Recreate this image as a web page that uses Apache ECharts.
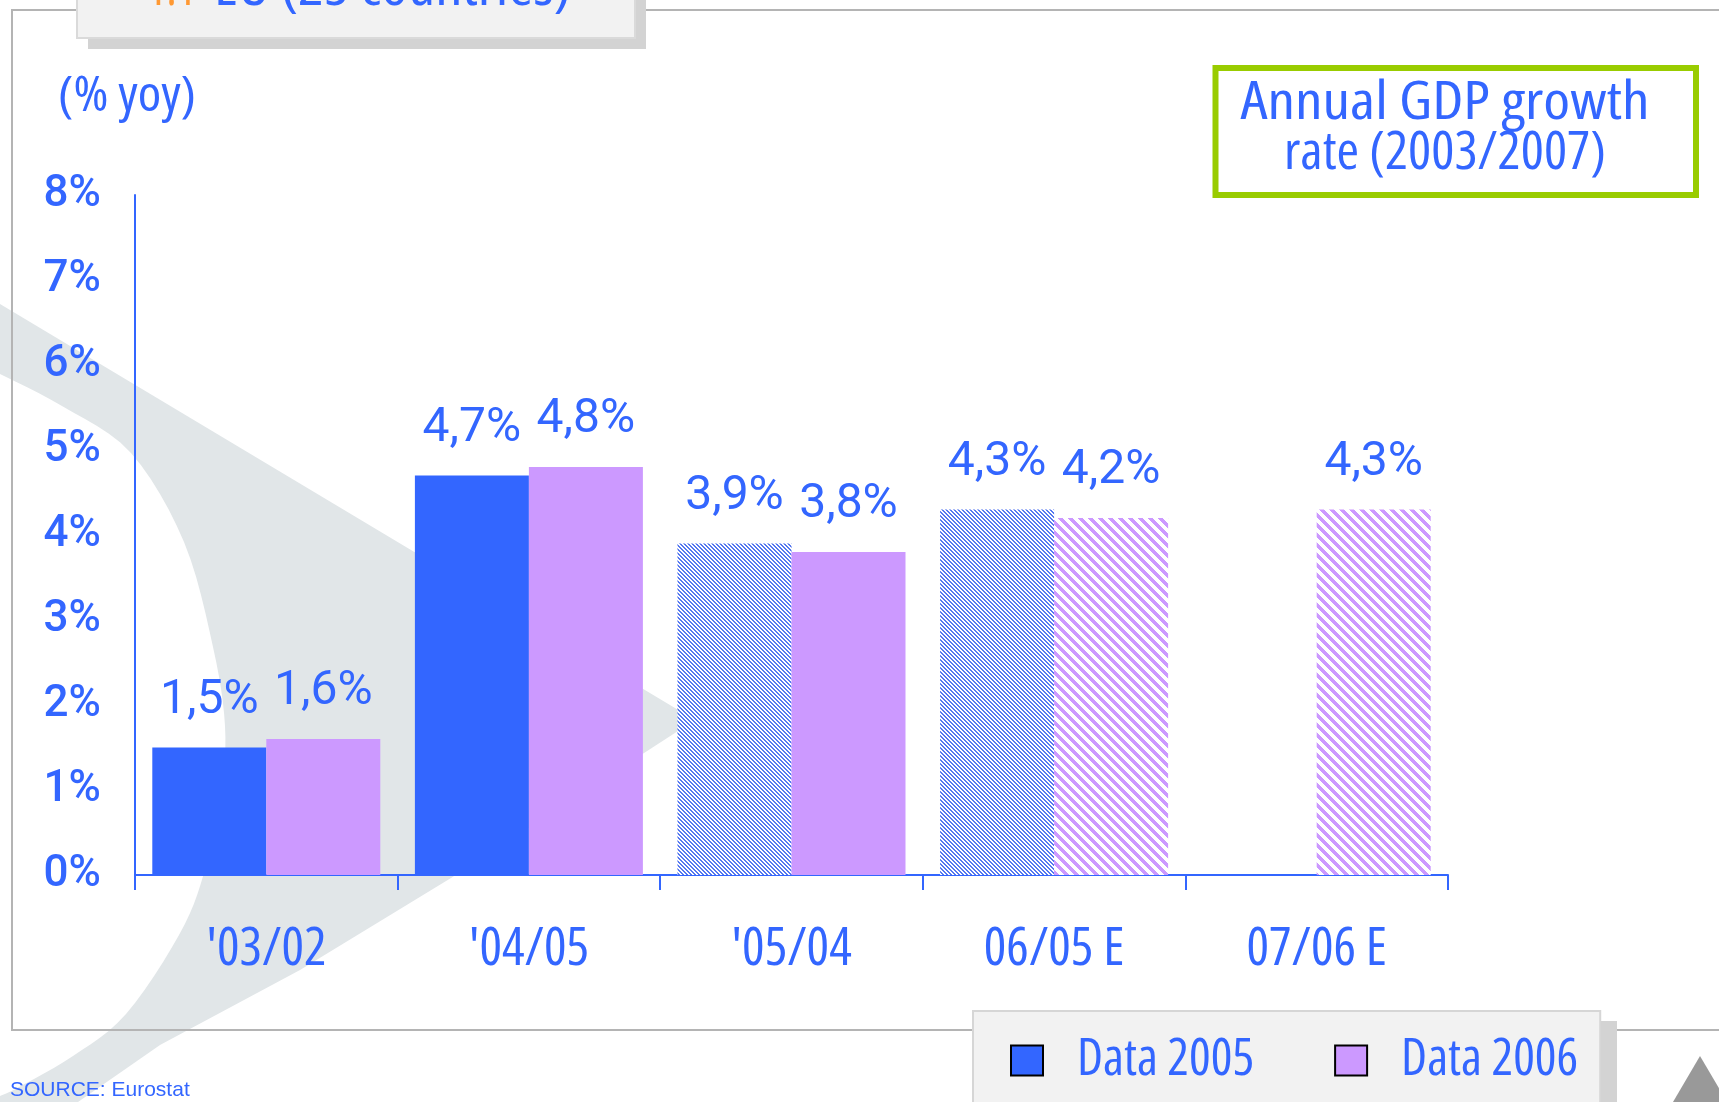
<!DOCTYPE html>
<html>
<head>
<meta charset="utf-8">
<script src="https://cdn.jsdelivr.net/npm/echarts@6/dist/echarts.min.js"></script>
<style>
html, body { margin: 0; padding: 0; background: #fff; }
#chart { width: 1719px; height: 1102px; }
</style>
</head>
<body>
<div id="chart"></div>
<script>
// values
var categories = ["'03/02", "'04/05", "'05/04", '06/05 E', '07/06 E'];
var data2005 = [1.5, 4.7, 3.9, 4.3, null];
var data2006 = [1.6, 4.8, 3.8, 4.2, 4.3];
// which bars are estimates (drawn hatched)
var estimated2005 = [false, false, true, true, false];
var estimated2006 = [false, false, false, true, true];
var yTicks = [0, 8, 1]; // min, max, step

var BLUE = '#3366FF';
var PURPLE = '#CC99FF';

// the original uses a narrow sans; take the narrowest one this machine has
var mctx = document.createElement('canvas').getContext('2d');
function textWidth(font, s) {
    mctx.font = '10px serif';
    mctx.font = font;
    return mctx.measureText(s).width;
}
var narrowCands = [
    ['condensed', "'Noto Sans'"],
    ['normal', "'Liberation Sans Narrow'"],
    ['normal', "'DejaVu Sans Condensed'"],
    ['normal', "'Roboto Condensed'"],
    ['condensed', "'Open Sans'"],
    ['normal', 'Roboto']
];
var NSTYLE = 'normal', NFAMILY = 'Roboto', best = Infinity;
narrowCands.forEach(function (c) {
    var w = textWidth(c[0] + ' 100px ' + c[1], 'Data 2005');
    if (w > 200 && w < best) { best = w; NSTYLE = c[0]; NFAMILY = c[1]; }
});
function nfont(size) { return NSTYLE + ' ' + size + 'px ' + NFAMILY; }
// font size that makes a text as wide as in the picture
function fitSize(s, width, size) {
    var k = width / textWidth(nfont(size), s);
    return Math.round(size * Math.max(0.75, Math.min(1.1, k)));
}
// horizontal squeeze for free texts
function squeeze(s, width, size) {
    var k = width / textWidth(nfont(size), s);
    return Math.max(0.65, Math.min(1.2, k));
}

// diagonal stripes on white, going top-left to bottom-right
function hatch(size, band, color) {
    var c = document.createElement('canvas');
    c.width = size; c.height = size;
    var ctx = c.getContext('2d');
    ctx.fillStyle = '#fff';
    ctx.fillRect(0, 0, size, size);
    ctx.fillStyle = color;
    for (var y = 0; y < size; y++) {
        for (var x = 0; x < size; x++) {
            if ((((x - y) % size) + size) % size < band) ctx.fillRect(x, y, 1, 1);
        }
    }
    return c;
}
var blueHatch = { image: hatch(4, 2, '#5578F0'), repeat: 'repeat' };
var purpleHatch = { image: hatch(10, 5, PURPLE), repeat: 'repeat' };

function items(values, estimated, pattern) {
    return values.map(function (v, i) {
        if (v === null) return '-';
        return estimated[i] ? { value: v, itemStyle: { color: pattern } } : v;
    });
}

function pct(p) {
    return String(p.value).replace('.', ',') + '%';
}

// background swoosh: straight outer edges, curved inner edge (catmull-rom through traced points)
function spline(pts, steps) {
    var out = [];
    for (var i = 0; i < pts.length - 1; i++) {
        var p0 = pts[Math.max(0, i - 1)], p1 = pts[i], p2 = pts[i + 1], p3 = pts[Math.min(pts.length - 1, i + 2)];
        for (var s = 0; s < steps; s++) {
            var t = s / steps, t2 = t * t, t3 = t2 * t;
            out.push([0, 1].map(function (k) {
                return 0.5 * (2 * p1[k] + (-p0[k] + p2[k]) * t + (2 * p0[k] - 5 * p1[k] + 4 * p2[k] - p3[k]) * t2 + (-p0[k] + 3 * p1[k] - 3 * p2[k] + p3[k]) * t3);
            }));
        }
    }
    out.push(pts[pts.length - 1]);
    return out;
}
var innerEdge = [[0, 1096], [19, 1087], [73, 1056], [126, 1014], [179, 935], [204, 873], [221, 790], [225, 726], [213, 647], [184, 542], [131, 453], [62, 406], [0, 374]];
var swoosh = [[0, 304], [695, 720], [451, 878], [300, 970], [160, 1045], [78, 1102], [0, 1102]]
    .concat(spline(innerEdge, 6));

var chart = echarts.init(document.getElementById('chart'));

var barLabel = {
    show: true,
    position: 'top',
    distance: 23,
    formatter: pct,
    color: BLUE,
    fontFamily: 'Roboto',
    fontWeight: 'normal',
    fontSize: 48
};

function freeText(s, x, baseline, width, size, color, align) {
    return {
        type: 'text', z: 12, silent: true,
        x: x, y: baseline - 0.34 * size,
        scaleX: squeeze(s, width, size),
        style: { x: 0, y: 0, text: s, fill: color, font: nfont(size), align: align || 'left', verticalAlign: 'middle' }
    };
}

var option = {
    backgroundColor: '#fff',
    animation: false,
    grid: { left: 135, right: 271, top: 195, bottom: 227 },
    xAxis: {
        type: 'category',
        data: categories,
        axisLine: { lineStyle: { color: BLUE, width: 2 } },
        axisTick: { show: true, length: 15, lineStyle: { color: BLUE, width: 2 } },
        axisLabel: {
            interval: 0, margin: 48, color: BLUE,
            fontStyle: NSTYLE, fontFamily: NFAMILY, fontSize: fitSize("'03/02", 121, 50)
        }
    },
    yAxis: {
        type: 'value',
        min: yTicks[0],
        max: yTicks[1],
        interval: yTicks[2],
        axisLine: { show: true, lineStyle: { color: BLUE, width: 2 } },
        axisTick: { show: false },
        splitLine: { show: false },
        axisLabel: { margin: 34, formatter: '{value}%', color: BLUE, fontFamily: 'Roboto', fontWeight: 500, fontSize: 44 }
    },
    legend: {
        data: ['Data 2005', 'Data 2006'],
        left: 973,
        top: 1011,
        orient: 'horizontal',
        icon: 'rect',
        itemWidth: 32,
        itemHeight: 30,
        itemGap: 80,
        padding: [24, 22, 17, 37],
        backgroundColor: '#F2F2F2',
        borderColor: '#D6D6D6',
        borderWidth: 2,
        itemStyle: { borderColor: '#000', borderWidth: 2 },
        textStyle: {
            color: BLUE, fontStyle: NSTYLE, fontFamily: NFAMILY,
            fontSize: fitSize('Data 2005', 179, 46), padding: [0, 0, 0, 29]
        }
    },
    graphic: [
        // light grey swoosh behind everything
        {
            type: 'polygon', z: -10, silent: true,
            shape: { points: swoosh },
            style: { fill: '#E1E6E8' }
        },
        // outer frame
        {
            type: 'rect', z: -9, silent: true,
            shape: { x: 12, y: 10, width: 1800, height: 1020 },
            style: { fill: null, stroke: '#B4B4B4', lineWidth: 2 }
        },
        // legend drop shadow
        {
            type: 'rect', z: 3, silent: true,
            shape: { x: 984, y: 1021, width: 633, height: 90 },
            style: { fill: '#D3D3D3' }
        },
        // title tab (cut at the top)
        {
            type: 'rect', z: 10, silent: true,
            shape: { x: 88, y: -10, width: 558, height: 59 },
            style: { fill: '#D3D3D3' }
        },
        {
            type: 'rect', z: 11, silent: true,
            shape: { x: 77, y: -20, width: 558, height: 58 },
            style: { fill: '#F2F2F2', stroke: '#DADADA', lineWidth: 2 }
        },
        freeText('1.1', 147, 8, 49, 56, '#FF9933'),
        freeText('EU (25 countries)', 214, 8, 357, 56, BLUE),
        // unit
        freeText('(% yoy)', 58, 114, 138, 49, BLUE),
        // green box
        {
            type: 'rect', z: 10, silent: true,
            shape: { x: 1215.5, y: 68, width: 480.5, height: 127 },
            style: { fill: '#fff', stroke: '#99CC00', lineWidth: 6 }
        },
        freeText('Annual GDP growth', 1445, 122, 409, 52, BLUE, 'center'),
        freeText('rate (2003/2007)', 1445, 172, 322, 52, BLUE, 'center'),
        // source
        {
            type: 'text', z: 12, silent: true,
            style: { x: 10, y: 1090, text: 'SOURCE: Eurostat', fill: BLUE, font: "21px 'Liberation Sans', Arial, sans-serif", verticalAlign: 'middle' }
        },
        // corner marker
        {
            type: 'polygon', z: 12, silent: true,
            shape: { points: [[1673, 1102], [1700, 1056], [1727, 1102]] },
            style: { fill: '#999999' }
        }
    ],
    series: [
        {
            name: 'Data 2005',
            type: 'bar',
            barWidth: 114,
            barGap: '0%',
            itemStyle: { color: BLUE },
            label: barLabel,
            data: items(data2005, estimated2005, blueHatch)
        },
        {
            name: 'Data 2006',
            type: 'bar',
            barWidth: 114,
            barGap: '0%',
            itemStyle: { color: PURPLE },
            label: barLabel,
            data: items(data2006, estimated2006, purpleHatch)
        }
    ]
};

option && chart.setOption(option);
</script>
</body>
</html>
